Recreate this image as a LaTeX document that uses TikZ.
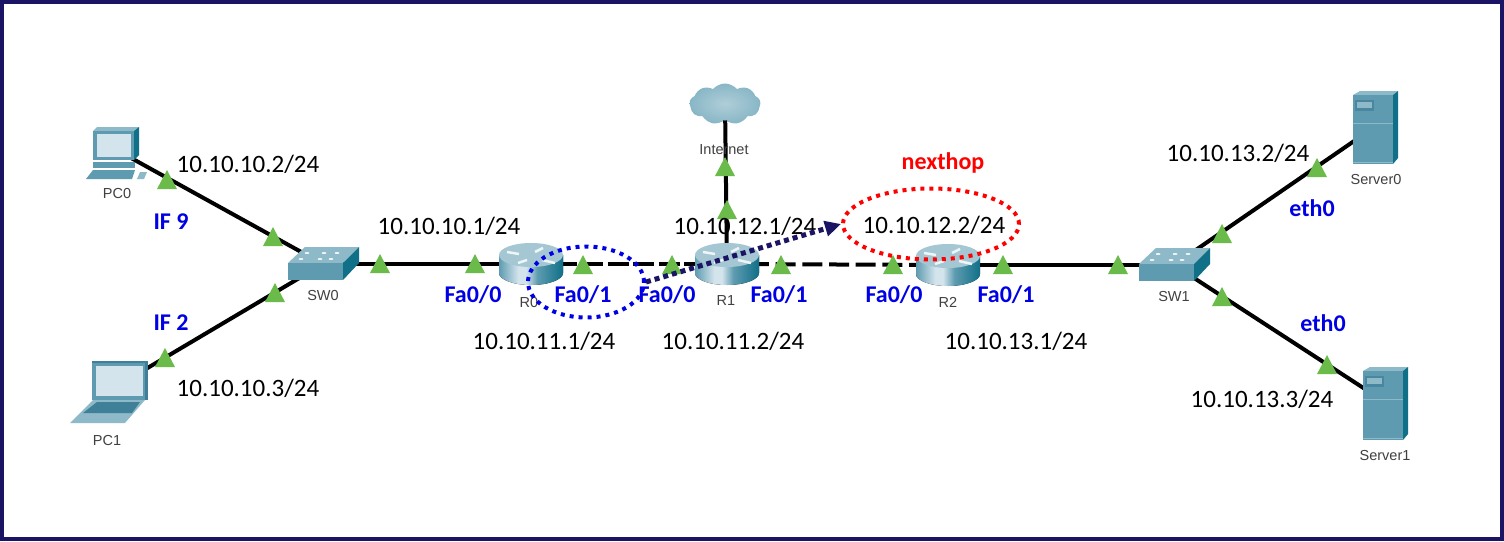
\documentclass[tikz,border=0pt]{standalone}
\usepackage{fontspec}
\setmainfont{Carlito}
\newfontfamily\devfont{Liberation Sans}
\usetikzlibrary{arrows.meta,shapes.geometric,shapes.symbols}
\definecolor{framenavy}{HTML}{1B1464}
\definecolor{portgreen}{HTML}{6BBB4B}
\definecolor{devbody}{HTML}{5E9BB0}
\definecolor{devside}{HTML}{0F7088}
\definecolor{devtop}{HTML}{8DB9C8}
\definecolor{devscreen}{HTML}{D3E4EC}
\definecolor{devdark}{HTML}{3F7F97}
\definecolor{labgray}{HTML}{404040}
\pgfdeclarehorizontalshading{routerbody}{100bp}{color(0bp)=(devbody); color(25bp)=(devbody);
  color(40bp)=(devscreen); color(46bp)=(devscreen); color(55bp)=(devbody); color(75bp)=(devside); color(100bp)=(devside)}
\tikzset{
  pcicon/.pic={
    \fill[devtop] (-20,-17) -- (-16,-21) -- (26,-21) -- (21,-17) -- cycle;
    \fill[devside] (21,-17) -- (26,-21) -- (26,7) -- (21,12) -- cycle;
    \fill[devbody] (-20,-17) rectangle (21,12);
    \fill[devscreen] (-16,-14) rectangle (18,9);
    \fill[devbody] (-20,14) rectangle (22,20);
    \fill[devbody] (-27,31) -- (-20,22) -- (22,22) -- (19,31) -- cycle;
    \fill[devtop] (24,31) -- (27,24) -- (34,24) -- (31,31) -- cycle;
  },
  laptopicon/.pic={
    \fill[devdark] (-15,-31) rectangle (41,8);
    \fill[devbody] (-15,-29) rectangle (38,8);
    \fill[devscreen] (-11,-26) rectangle (36,4);
    \fill[devtop] (-14,8) -- (38,8) -- (18,31) -- (-37,31) -- cycle;
    \fill[devdark] (-10,10) -- (33,10) -- (25,21) -- (-24,21) -- cycle;
  },
  switchicon/.pic={
    \fill[devtop] (-35,-1) -- (-18,-17) -- (36,-17) -- (20,-1) -- cycle;
    \fill[devside] (20,-1) -- (36,-17) -- (36,-1) -- (20,16) -- cycle;
    \fill[devbody] (-35,-1) rectangle (20,16);
    \foreach \dotx/\doty in {-16/-11,1/-11,-22/-5,-3/-5,14/-11,8/-5}
      \fill[white!85!devtop] (\dotx,\doty) ellipse (2.5 and 1);
  },
  servericon/.pic={
    \fill[devtop] (-20,-33) -- (-13,-37) -- (25,-37) -- (20,-33) -- cycle;
    \fill[devside] (20,-33) -- (25,-37) -- (25,30) -- (20,36) -- cycle;
    \fill[devbody] (-20,-33) rectangle (20,36);
    \fill[devdark!70!devbody] (-18,-28) rectangle (1,-17);
    \fill[devtop] (-16,-26) rectangle (-1,-20);
    \draw[devtop, line width=1pt] (-20,-5) -- (20,-5);
    \draw[devtop, line width=1pt] (-20,34) -- (20,34);
  },
  routericon/.pic={
    \fill[shading=routerbody]
      (-32,-9) -- (-32,9) arc[start angle=180, end angle=360, x radius=32, y radius=-12]
      -- (32,-9) -- cycle;
    \fill[devtop!80!white] (0,-9) ellipse (32 and 12);
    \draw[white!85!devtop, line width=2.5pt] (-24,-12) -- (-12,-10) (4,-12) -- (12,-16)
      (-13,-1) -- (-4,-4) (11,-4) -- (24,-1);
  }
}
\begin{document}
\begin{tikzpicture}[
  x=1pt, y=-1pt,
  dev/.style={inner sep=0pt, minimum size=4pt},
  link/.style={line width=4pt, black},
  port/.style={isosceles triangle, shape border rotate=90, isosceles triangle stretches, yshift=-3pt,
               fill=portgreen, inner sep=0pt, minimum width=20pt, minimum height=19pt},
  addr/.style={font=\fontsize{25}{28}\selectfont, inner sep=0pt, black},
  ifc/.style={font=\fontsize{24}{27}\selectfont\bfseries, inner sep=0pt, blue!90!black},
  lab/.style={font=\devfont\fontsize{14.5}{16}\selectfont, inner sep=0pt, labgray},
  hop/.style={ellipse, draw, inner sep=0pt, line width=4pt, dash pattern=on 4pt off 5pt}]
\useasboundingbox (0,0) rectangle (1504,541);
\fill[white] (0,0) rectangle (1504,541);
\draw[framenavy, line width=4pt] (2,2) rectangle (1502,539);
\node[dev] (pc0) at (113,148) {};
\node[dev] (pc1) at (107,392) {};
\node[dev] (sw0) at (323,264) {};
\node[dev] (r0) at (531,264) {};
\node[dev] (r1) at (727,264) {};
\node[dev] (r2) at (948,265) {};
\node[dev] (sw1) at (1174,265) {};
\node[dev] (srv0) at (1373,128) {};
\node[dev] (srv1) at (1385,402) {};
\node[cloud, cloud puffs=9, cloud puff arc=100, aspect=1.8, inner sep=0pt, minimum width=71pt, minimum height=41pt,
      inner color=devtop!70!white, outer color=devtop!90!devbody] (inet) at (725,104) {};
\draw[link] (pc0) -- (sw0);
\draw[link] (pc1) -- (sw0);
\draw[link] (sw0) -- (r0);
\draw[link, dash pattern=on 21pt off 4.6pt, dash phase=2.5pt] (r0) -- (r1);
\draw[link, dash pattern=on 20pt off 6.7pt, dash phase=7pt] (r1) -- (r2);
\draw[link] (r2) -- (sw1);
\draw[link] (sw1) -- (srv0);
\draw[link] (sw1) -- (srv1);
\draw[link] (inet) -- (r1);
\pic at (pc0) {pcicon};
\pic at (pc1) {laptopicon};
\pic at (sw0) {switchicon};
\pic at (sw1) {switchicon};
\pic at (r0) {routericon};
\pic at (r1) {routericon};
\pic at (r2) {routericon};
\pic at (1373,128) {servericon};
\pic at (1383,404) {servericon};
\foreach \portx/\porty [count=\i] in {167/180,273/237,275/293,165/358,380/264,475/264,
    583/265,672/265,781/265,893/265,1003/265,1118/265,725/167,727/210,
    1222/234,1317/168,1222/297,1327/365}
  \node[port] (port\i) at (\portx,\porty) {};
\node[lab] (lpc0) at (117,194) {PC0};
\node[lab] (lpc1) at (107,441) {PC1};
\node[lab] (lsw0) at (323,296) {SW0};
\node[lab] (lr0) at (529,303) {R0};
\node[lab] (lr1) at (726,301) {R1};
\node[lab] (lr2) at (948,302) {R2};
\node[lab] (lsw1) at (1174,297) {SW1};
\node[lab] (lsrv0) at (1376,180) {Server0};
\node[lab] (lsrv1) at (1385,456) {Server1};
\node[lab] (linet) at (724,150) {Internet};
\node[addr] (a1) at (248,164) {10.10.10.2/24};
\node[addr] (a2) at (248,388) {10.10.10.3/24};
\node[addr] (a3) at (449,226) {10.10.10.1/24};
\node[addr] (a4) at (544,341) {10.10.11.1/24};
\node[addr] (a5) at (733,341) {10.10.11.2/24};
\node[addr] (a6) at (745,226) {10.10.12.1/24};
\node[addr] (a7) at (934,225) {10.10.12.2/24};
\node[addr] (a8) at (1016,341) {10.10.13.1/24};
\node[addr] (a9) at (1238,153) {10.10.13.2/24};
\node[addr] (a10) at (1262,399) {10.10.13.3/24};
\node[ifc] (if9) at (171,222) {IF 9};
\node[ifc] (if2) at (171,323) {IF 2};
\node[ifc] (fa1) at (473,295) {Fa0/0};
\node[ifc] (fa2) at (583,295) {Fa0/1};
\node[ifc] (fa3) at (667,295) {Fa0/0};
\node[ifc] (fa4) at (779,295) {Fa0/1};
\node[ifc] (fa5) at (894,295) {Fa0/0};
\node[ifc] (fa6) at (1006,295) {Fa0/1};
\node[ifc] (eth1) at (1312,208) {eth0};
\node[ifc] (eth2) at (1323,323) {eth0};
\node[ifc, red] (nhop) at (943,163) {nexthop};
\node[hop, blue!90!black, minimum width=116pt, minimum height=71pt] (blueloop) at (586,282) {};
\node[hop, red, minimum width=176pt, minimum height=71pt] (redloop) at (931,224) {};
\draw[framenavy, line width=5pt, dash pattern=on 5pt off 4pt,
      -{Triangle[length=16pt, width=15pt, fill=framenavy]}] (blueloop.east) -- (redloop.west);
\end{tikzpicture}
\end{document}
